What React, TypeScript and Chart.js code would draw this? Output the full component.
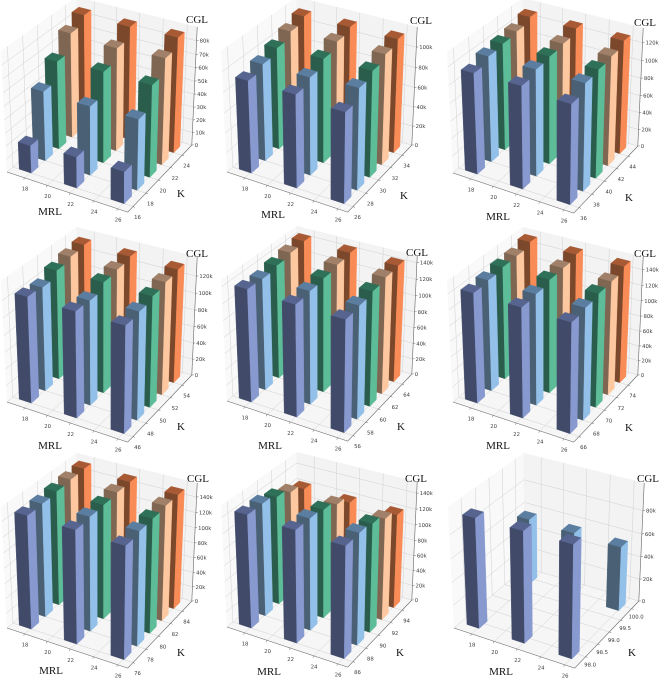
import React, { useEffect, useRef } from "react";
import { Chart, registerables } from "chart.js";

Chart.register(...registerables);

// ---- data (k units) ----
const mrlTicks = [18, 20, 22, 24, 26];
const mrlGroups = [17, 21, 25];

const k1 = [16, 18, 20, 22, 24];
const k2 = [26, 28, 30, 32, 34];
const k3 = [36, 38, 40, 42, 44];
const k4 = [46, 48, 50, 52, 54];
const k5 = [56, 58, 60, 62, 64];
const k6 = [66, 68, 70, 72, 74];
const k7 = [76, 78, 80, 82, 84];
const k8 = [86, 88, 90, 92, 94];
const k9 = [98, 100];

const cgl1 = [[21, 23.5, 24], [53, 52, 53], [67, 69, 69], [80, 78, 80], [86, 86, 87]];
const cgl2 = [[92, 92, 89], [97, 97, 100], [102, 104, 105], [108, 110, 110], [113, 114, 114]];
const cgl3 = [[114, 115, 111], [120, 120, 120], [122, 122, 122], [124, 124, 124], [129, 129, 129]];
const cgl4 = [[125, 124, 124], [123, 123, 126], [130, 131, 130], [134, 133, 133], [136, 136, 135]];
const cgl5 = [[138, 136, 135], [137, 138, 137], [140, 140, 140], [143, 143, 143], [145, 145, 144]];
const cgl6 = [[142, 141, 140], [144, 143, 143], [147, 147, 146], [148, 148, 147], [153, 152, 152]];
const cgl7 = [[148, 147, 145], [149, 149, 148], [151, 150, 149], [153, 152, 151], [154, 152, 151]];
const cgl8 = [[144, 142, 140], [144, 142, 141], [139, 139, 138], [132, 132, 130], [123, 121, 121]];
const cgl9 = [[94, 94.5, 95], [58, 57, 56]];

const zTicks1 = [0, 10, 20, 30, 40, 50, 60, 70, 80];
const zTicks2 = [0, 20, 40, 60, 80, 100];
const zTicks3 = [0, 20, 40, 60, 80, 100, 120];
const zTicks4 = [0, 20, 40, 60, 80, 100, 120];
const zTicks5 = [0, 20, 40, 60, 80, 100, 120, 140];
const zTicks9 = [0, 20, 40, 60, 80];

const kTickLabels9 = ["98.0", "98.5", "99.0", "99.5", "100.0"];
const kTicks9 = [98, 98.5, 99, 99.5, 100];

const zMaxes = [90, 119.5, 136, 142, 148, 156, 158, 154, 103];

// ---- styling / layout ----
const PW = 220;
const PH = 228;
const ROW_STEP = 225;
const anchorX = [7, 7, 13, 7, 7, 13, 7, 7, 14];
const anchorY = [172, 172, 173, 177, 176, 177, 178, 177, 178];
const cglPos = [[197, 20], [201, 21], [205, 23], [197, 29], [197, 28], [205, 29], [198, 29], [196, 29], [208, 29]];
const kPos = [[181, 194], [184, 196], [189, 198], [181, 202], [181, 202], [189, 203], [181, 203], [180, 203], [192, 203]];
const mrlPos = [[50, 212], [53, 215], [58, 217], [50, 221], [50, 221], [58, 221], [51, 221], [49, 222], [61, 222]];

const faces = [
  { right: "#8799cf", front: "#414b69", top: "#56648f" },
  { right: "#93c0e8", front: "#4a6074", top: "#5a7da0" },
  { right: "#5dbd98", front: "#2a5d4c", top: "#2f7058" },
  { right: "#fdc8a0", front: "#7e6652", top: "#a08068" },
  { right: "#f98b57", front: "#7c482b", top: "#a85a35" },
];

const SX = 1170;
const SY = 1170;
const BX = 1.19;
const BY = 1.19;
const BZ = 1.18;
const DIST = 10;
const EL = (30 * Math.PI) / 180;
const AZ = (-60 * Math.PI) / 180;
const U = [-Math.sin(AZ), Math.cos(AZ), 0];
const V = [-Math.sin(EL) * Math.cos(AZ), -Math.sin(EL) * Math.sin(AZ), Math.cos(EL)];
const W = [Math.cos(EL) * Math.cos(AZ), Math.cos(EL) * Math.sin(AZ), Math.sin(EL)];

const dot = (a: number[], b: number[]) => a[0] * b[0] + a[1] * b[1] + a[2] * b[2];

function rawProject(fx: number, fy: number, fz: number) {
  const p = [(fx - 0.5) * BX, (fy - 0.5) * BY, (fz - 0.5) * BZ];
  const depth = DIST - dot(p, W);
  return [dot(p, U) / depth, dot(p, V) / depth];
}

type PanelSpec = {
  ks: number[];
  values: number[][];
  zTicks: number[];
  kTicks: number[];
  kLabels: string[];
  barDepth: number;
  barShift: number;
  kLabelDy: number;
  yMin: number;
  yMax: number;
  zMax: number;
};

function makeSpec(i: number, ks: number[], values: number[][], zTicks: number[]): PanelSpec {
  return {
    ks,
    values,
    zTicks,
    kTicks: ks,
    kLabels: ks.map(String),
    barDepth: 1.05,
    barShift: 0,
    kLabelDy: 11,
    yMin: ks[0] - 0.8,
    yMax: ks[ks.length - 1] + 1.7,
    zMax: zMaxes[i],
  };
}

const specs: PanelSpec[] = [
  makeSpec(0, k1, cgl1, zTicks1),
  makeSpec(1, k2, cgl2, zTicks2),
  makeSpec(2, k3, cgl3, zTicks3),
  makeSpec(3, k4, cgl4, zTicks4),
  makeSpec(4, k5, cgl5, zTicks5),
  makeSpec(5, k6, cgl6, zTicks5),
  makeSpec(6, k7, cgl7, zTicks5),
  makeSpec(7, k8, cgl8, zTicks5),
  {
    ks: k9,
    values: cgl9,
    zTicks: zTicks9,
    kTicks: kTicks9,
    kLabels: kTickLabels9,
    barDepth: 0.3,
    barShift: -0.2,
    kLabelDy: 8.5,
    yMin: 97.56,
    yMax: 100.34,
    zMax: zMaxes[8],
  },
];

const X_MIN = 16.42;
const X_MAX = 26.82;
const BAR_DX = 1.1;

function buildConfig(spec: PanelSpec, idx: number) {
  const base = rawProject(0, 0, 0);
  const ox = anchorX[idx] - SX * base[0];
  const oy = anchorY[idx] + SY * base[1];
  const proj = (x: number, y: number, z: number) => {
    const r = rawProject(
      (x - X_MIN) / (X_MAX - X_MIN),
      (y - spec.yMin) / (spec.yMax - spec.yMin),
      z / spec.zMax,
    );
    return { x: ox + SX * r[0], y: oy - SY * r[1] };
  };

  const sets: any[] = [];
  const poly = (pts: { x: number; y: number }[], color: string) => {
    sets.push({
      data: [...pts, pts[0]],
      showLine: true,
      fill: "shape",
      backgroundColor: color,
      borderColor: color,
      borderWidth: 0.4,
      pointRadius: 0,
      clip: false,
    });
  };
  const line = (a: { x: number; y: number }, b: { x: number; y: number }, color: string, w: number) => {
    sets.push({
      data: [a, b],
      showLine: true,
      fill: false,
      borderColor: color,
      borderWidth: w,
      pointRadius: 0,
      clip: false,
    });
  };

  const { yMin, yMax, zMax } = spec;
  // panes
  poly([proj(X_MIN, yMin, 0), proj(X_MIN, yMax, 0), proj(X_MIN, yMax, zMax), proj(X_MIN, yMin, zMax)], "#f9f9f9");
  poly([proj(X_MIN, yMax, 0), proj(X_MAX, yMax, 0), proj(X_MAX, yMax, zMax), proj(X_MIN, yMax, zMax)], "#f3f3f3");
  poly([proj(X_MIN, yMin, 0), proj(X_MAX, yMin, 0), proj(X_MAX, yMax, 0), proj(X_MIN, yMax, 0)], "#f6f6f6");

  // grid
  const grid = "#d2d2d2";
  for (const t of mrlTicks) {
    line(proj(t, yMin, 0), proj(t, yMax, 0), grid, 0.5);
    line(proj(t, yMax, 0), proj(t, yMax, zMax), grid, 0.5);
  }
  for (const t of spec.kTicks) {
    line(proj(X_MAX, t, 0), proj(X_MIN, t, 0), grid, 0.5);
    line(proj(X_MIN, t, 0), proj(X_MIN, t, zMax), grid, 0.5);
  }
  for (const t of spec.zTicks) {
    line(proj(X_MIN, yMin, t), proj(X_MIN, yMax, t), grid, 0.5);
    line(proj(X_MIN, yMax, t), proj(X_MAX, yMax, t), grid, 0.5);
  }

  // axis lines
  const axis = "#666666";
  line(proj(X_MIN, yMin, 0), proj(X_MAX, yMin, 0), axis, 0.6);
  line(proj(X_MAX, yMin, 0), proj(X_MAX, yMax, 0), axis, 0.6);
  line(proj(X_MAX, yMax, 0), proj(X_MAX, yMax, zMax), axis, 0.6);

  // tick marks
  for (const t of mrlTicks) {
    const a = proj(t, yMin, 0);
    line(a, { x: a.x - 0.9, y: a.y + 1.9 }, axis, 0.5);
  }
  for (const t of spec.kTicks) {
    const a = proj(X_MAX, t, 0);
    line(a, { x: a.x + 2, y: a.y + 0.8 }, axis, 0.5);
  }
  for (const t of spec.zTicks) {
    const a = proj(X_MAX, yMax, t);
    line(a, { x: a.x + 2, y: a.y - 0.3 }, axis, 0.5);
  }

  // bars, far to near
  for (let ki = spec.ks.length - 1; ki >= 0; ki--) {
    const c = faces[ki];
    const y0 = spec.ks[ki] + spec.barShift;
    const y1 = y0 + spec.barDepth;
    mrlGroups.forEach((x0, gi) => {
      const x1 = x0 + BAR_DX;
      const h = spec.values[ki][gi];
      poly([proj(x0, y0, h), proj(x1, y0, h), proj(x1, y1, h), proj(x0, y1, h)], c.top);
      poly([proj(x0, y0, 0), proj(x1, y0, 0), proj(x1, y0, h), proj(x0, y0, h)], c.front);
      poly([proj(x1, y0, 0), proj(x1, y1, 0), proj(x1, y1, h), proj(x1, y0, h)], c.right);
    });
  }

  // Chart.js paints the first dataset last, so paint order is set explicitly.
  sets.forEach((s, i) => {
    s.order = sets.length - i;
  });

  const textPlugin = {
    id: "axisText",
    afterDatasetsDraw(chart: any) {
      const { ctx, scales } = chart;
      const px = (p: { x: number; y: number }) => [scales.x.getPixelForValue(p.x), scales.y.getPixelForValue(p.y)];
      ctx.save();
      ctx.fillStyle = "#3a3a3a";
      ctx.font = '5.3px "DejaVu Sans"';
      ctx.textBaseline = "middle";
      ctx.textAlign = "center";
      for (const t of mrlTicks) {
        const [a, b] = px(proj(t, yMin, 0));
        ctx.fillText(String(t), a + 0.5, b + 11.5);
      }
      spec.kTicks.forEach((t, i) => {
        const [a, b] = px(proj(X_MAX, t, 0));
        ctx.fillText(spec.kLabels[i], a + 4.5, b + spec.kLabelDy);
      });
      ctx.textAlign = "left";
      for (const t of spec.zTicks) {
        const [a, b] = px(proj(X_MAX, yMax, t));
        ctx.fillText(t === 0 ? "0" : `${t}k`, a + 3, b + 0.5);
      }
      ctx.fillStyle = "#111111";
      ctx.font = '11px "Liberation Serif"';
      ctx.textAlign = "center";
      const put = (s: string, p: number[]) => {
        const [a, b] = px({ x: p[0], y: p[1] });
        ctx.fillText(s, a, b);
      };
      put("CGL", cglPos[idx]);
      put("K", kPos[idx]);
      put("MRL", mrlPos[idx]);
      ctx.restore();
    },
  };

  return {
    type: "scatter" as const,
    data: { datasets: sets },
    plugins: [textPlugin],
    options: {
      animation: false as const,
      responsive: false,
      devicePixelRatio: 2,
      layout: { padding: 0 },
      events: [],
      elements: { line: { tension: 0 } },
      plugins: { legend: { display: false }, tooltip: { enabled: false }, title: { display: false } },
      scales: {
        x: { type: "linear" as const, min: 0, max: PW, display: false },
        y: { type: "linear" as const, min: 0, max: PH, reverse: true, display: false },
      },
    },
  };
}

function Panel({ index }: { index: number }) {
  const ref = useRef<HTMLCanvasElement | null>(null);
  useEffect(() => {
    if (!ref.current) return;
    const chart = new Chart(ref.current, buildConfig(specs[index], index) as any);
    return () => chart.destroy();
  }, [index]);
  const col = index % 3;
  const row = Math.floor(index / 3);
  return (
    <canvas
      ref={ref}
      width={PW}
      height={PH}
      style={{ position: "absolute", left: col * PW, top: row * ROW_STEP, width: PW, height: PH }}
    />
  );
}

export default function App() {
  useEffect(() => {
    document.body.style.margin = "0";
    document.body.style.background = "#ffffff";
  }, []);
  return (
    <div style={{ position: "relative", width: 660, height: 678, overflow: "hidden" }}>
      {specs.map((_, i) => (
        <Panel key={i} index={i} />
      ))}
    </div>
  );
}
